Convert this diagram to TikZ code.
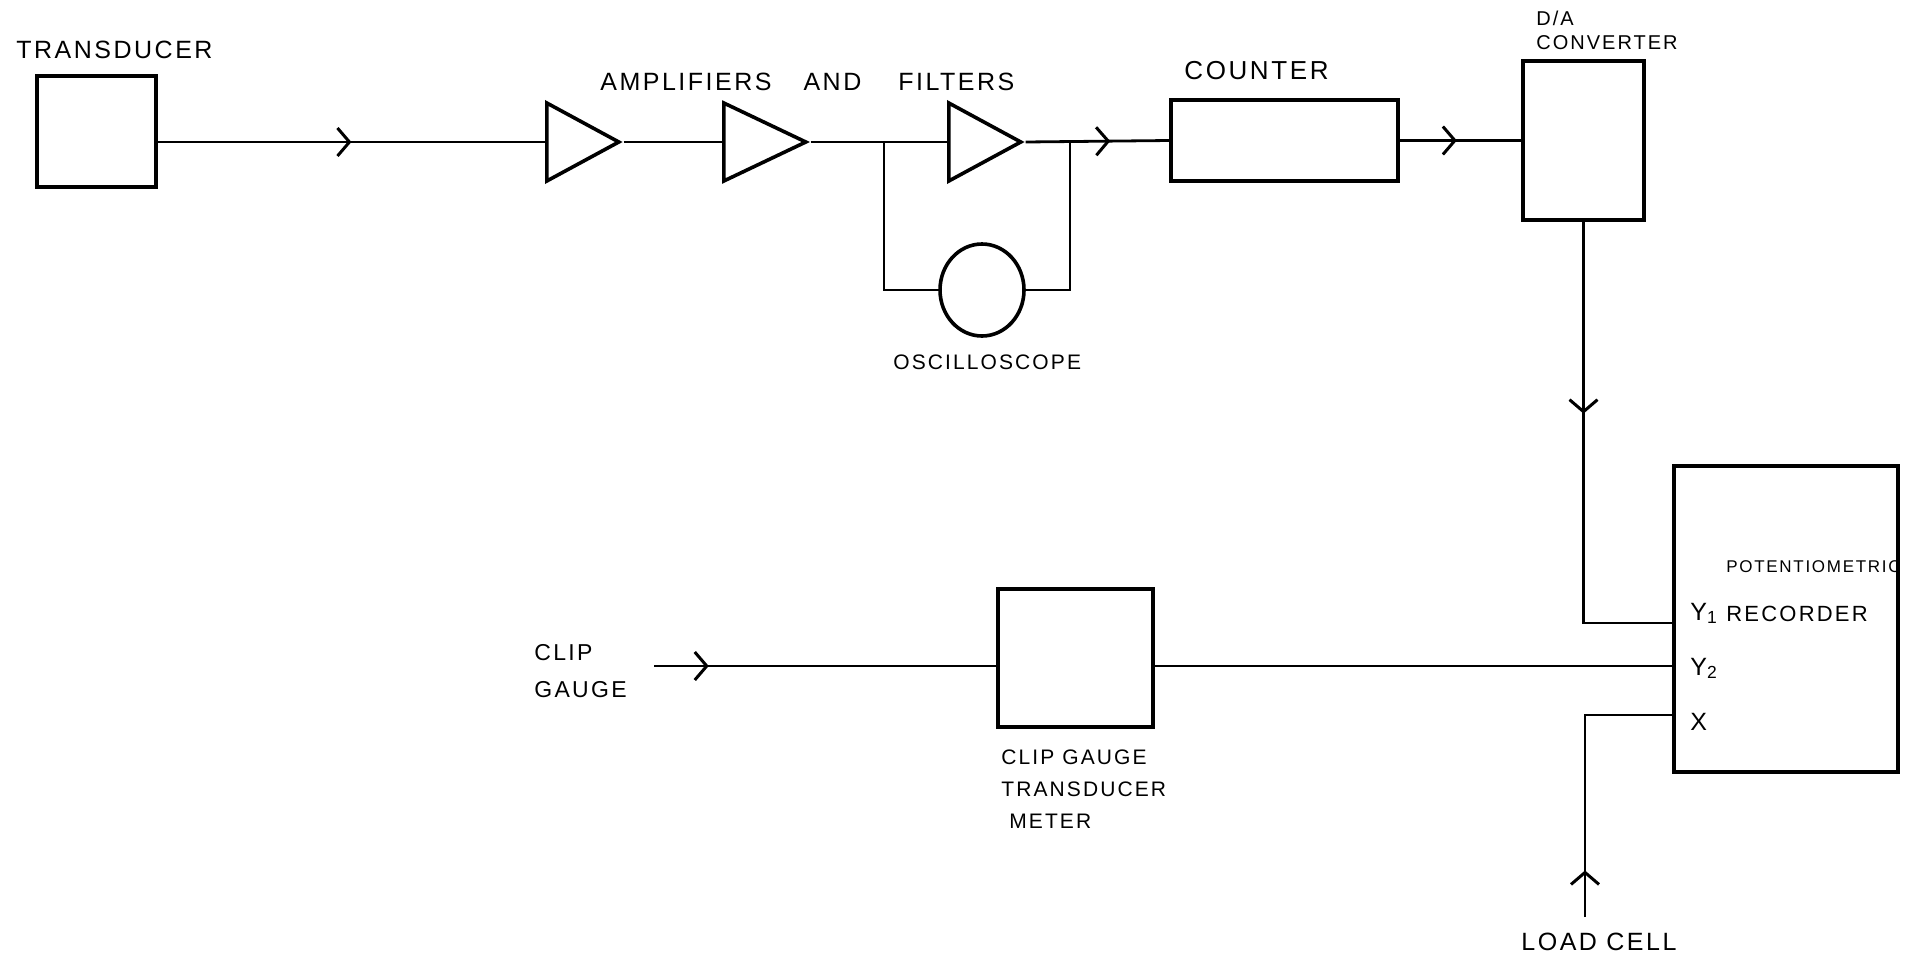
\documentclass[tikz,border=0pt]{standalone}
\usepackage{fontspec}
\setmainfont{Liberation Sans}[LetterSpace=10]
\usetikzlibrary{shapes.geometric, arrows.meta, positioning, decorations.markings, calc}

\tikzset{
    block/.style={rectangle, draw, line width=3.8pt, inner sep=0pt},
    amp/.style={isosceles triangle, isosceles triangle stretches, draw, line width=3.6pt, inner sep=0pt, anchor=west},
    lbl/.style={inner sep=0pt, anchor=base west, align=left},
    mid arrow/.style={postaction={decorate}, decoration={markings, mark=at position #1 with {\arrow{Straight Barb[length=12pt, width=28pt, line width=3pt]}}}}
}

\begin{document}
\begin{tikzpicture}[x=1pt, y=-1pt, line width=2.8pt, font=\fontsize{25}{33}\selectfont]
    \useasboundingbox (0,0) rectangle (1916,954);

    % Blocks
    \node [block, minimum width=119pt, minimum height=111pt] (trans) at (96.5,131.5) {};
    \node [amp, minimum width=78pt, minimum height=72pt] (amp1) at (545,142) {};
    \node [amp, minimum width=78pt, minimum height=82pt] (amp2) at (722,142) {};
    \node [amp, minimum width=78pt, minimum height=72pt] (amp3) at (947,142) {};
    \node [block, minimum width=227pt, minimum height=81pt] (counter) at (1284.5,140.5) {};
    \node [block, minimum width=121pt, minimum height=159pt] (da) at (1583.5,140.5) {};
    \node [ellipse, draw, line width=3.6pt, minimum width=84pt, minimum height=92pt, inner sep=0pt] (scope) at (982,290) {};
    \node [block, minimum width=224pt, minimum height=306pt] (rec) at (1786,619) {};
    \node [block, minimum width=155pt, minimum height=138pt] (cgt) at (1075.5,658) {};

    % Free ends and branch points
    \coordinate (bl) at (884,142);
    \coordinate (br) at (1070,142);
    \coordinate (yone) at (1674,623);
    \coordinate (ytwo) at (1674,666);
    \coordinate (xin) at (1674,715);
    \coordinate (clip) at (654,666);
    \coordinate (load) at (1585,917);

    % Labels
    \node [lbl] (translbl) at (15,58) {TRANSDUCER};
    \node [lbl] (amplbl) at (599,90) {AMPLIFIERS\hspace{32pt}AND\hspace{37pt}FILTERS};
    \node [lbl, font=\fontsize{26}{30}\selectfont] (countlbl) at (1183,79) {COUNTER};
    \node [lbl, font=\fontsize{20}{24}\selectfont] (dalbl) at (1535,49) {D/A\\CONVERTER};
    \node [lbl, font=\fontsize{21}{26}\selectfont] (scopelbl) at (892,369) {OSCILLOSCOPE};
    \node [lbl, font=\fontsize{17}{20}\selectfont] (potlbl) at (1725,572) {POTENTIOMETRIC};
    \node [lbl, font=\fontsize{22}{26}\selectfont] (reclbl) at (1725,621) {RECORDER};
    \node [lbl] (yonelbl) at (1689,620) {Y\textsubscript{1}};
    \node [lbl] (ytwolbl) at (1689,675) {Y\textsubscript{2}};
    \node [lbl] (xlbl) at (1689,730) {X};
    \node [lbl, font=\fontsize{23}{37}\selectfont] (cliplbl) at (533,697) {CLIP\\GAUGE};
    \node [lbl, font=\fontsize{21}{32}\selectfont] (cgtlbl) at (1000,828) {CLIP GAUGE\\TRANSDUCER\\\ METER};
    \node [lbl, font=\fontsize{25}{28}\selectfont] (loadlbl) at (1520,950) {LOAD CELL};

    % Connectors
    \draw [mid arrow=0.5] (trans.east |- amp1.west) -- (amp1.west);
    \draw (amp1.east) -- (amp2.west);
    \draw (amp2.east) -- (amp3.west);
    \draw [mid arrow=0.59] (amp3.east) -- (counter.west);
    \draw [mid arrow=0.47] (counter.east) -- (da.west);
    \draw (bl) |- (scope.west);
    \draw (scope.east) -| (br);
    \draw [mid arrow=0.39] (da.south) |- (yone);
    \draw [mid arrow=0.16] (clip) -- (clip -| cgt.west);
    \draw (cgt.east |- ytwo) -- (ytwo);
    \draw [mid arrow=0.16] (load) |- (xin);
\end{tikzpicture}
\end{document}
